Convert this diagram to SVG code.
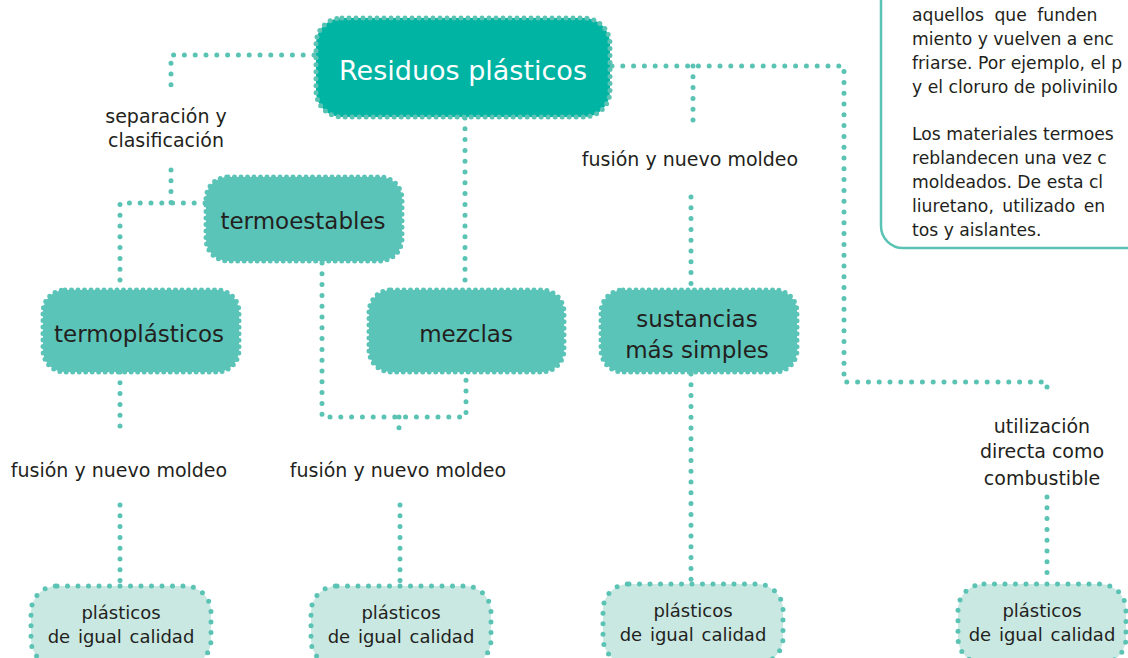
<svg xmlns="http://www.w3.org/2000/svg" width="1128" height="658" viewBox="0 0 1128 658">
<style>
.con{fill:none;stroke:#5ac3b4;stroke-width:5;stroke-linecap:round;stroke-dasharray:0 10.8}
.main{fill:#00b4a4;stroke:#5ac3b4;stroke-width:5;stroke-linecap:round;stroke-dasharray:0 7}
.mid{fill:#5bc4b8;stroke:#5bc4b8;stroke-width:5;stroke-linecap:round;stroke-dasharray:0 6.5}
.bot{fill:#c9e8e2;stroke:#5ac3b4;stroke-width:5;stroke-linecap:round;stroke-dasharray:0 10.5}
text{font-family:"DejaVu Sans","Liberation Sans",sans-serif;fill:#231f20}
.t1{font-size:27px;fill:#ffffff;text-anchor:middle}
.t2{font-size:23px;text-anchor:middle}
.t3{font-size:18px;text-anchor:middle;word-spacing:2px}
.lab{font-size:19px;text-anchor:middle}
.info{font-size:17.2px}
</style>
<g id="info">
<rect x="881" y="-40" width="300" height="288" rx="22" fill="#ffffff" stroke="#5ac3b4" stroke-width="2.5"/>
<text class="info" x="912" y="21" word-spacing="5">aquellos que funden</text>
<text class="info" x="912" y="45">miento y vuelven a enc</text>
<text class="info" x="912" y="69">friarse. Por ejemplo, el p</text>
<text class="info" x="912" y="93">y el cloruro de polivinilo</text>
<text class="info" x="912" y="140">Los materiales termoes</text>
<text class="info" x="912" y="164">reblandecen una vez c</text>
<text class="info" x="912" y="188">moldeados. De esta cl</text>
<text class="info" x="912" y="212" word-spacing="3">liuretano, utilizado en</text>
<text class="info" x="912" y="236">tos y aislantes.</text>
</g>
<g id="connectors">
<path class="con" d="M314,55 H171 V88"/>
<path class="con" d="M171,170 V203"/>
<path class="con" d="M205,203 H120 V288"/>
<path class="con" d="M465,118 V290"/>
<path class="con" d="M322,263 V417 H466 V372"/>
<path class="con" d="M399,417 V430"/>
<path class="con" d="M400,505 V585"/>
<path class="con" d="M120,372 V432"/>
<path class="con" d="M120,505 V585"/>
<path class="con" d="M612,66 H844 V382 H1047 V394"/>
<path class="con" d="M693,66 V122"/>
<path class="con" d="M691,197 V288"/>
<path class="con" d="M691,374 V583"/>
<path class="con" d="M1047,497 V583"/>
</g>
<g id="labels">
<text class="lab" x="166" y="123">separación y</text>
<text class="lab" x="166" y="147">clasificación</text>
<text class="lab" x="119" y="477">fusión y nuevo moldeo</text>
<text class="lab" x="398" y="477">fusión y nuevo moldeo</text>
<text class="lab" x="690" y="166">fusión y nuevo moldeo</text>
<text class="lab" x="1042" y="433">utilización</text>
<text class="lab" x="1042" y="458">directa como</text>
<text class="lab" x="1042" y="485">combustible</text>
</g>
<g id="residuos">
<rect class="main" x="316" y="18" width="294" height="99" rx="26"/>
<text class="t1" x="463" y="80">Residuos plásticos</text>
</g>
<g id="termoestables">
<rect class="mid" x="206" y="177" width="196" height="84" rx="22"/>
<text class="t2" x="303" y="229">termoestables</text>
</g>
<g id="termoplasticos">
<rect class="mid" x="43" y="290" width="196" height="82" rx="22"/>
<text class="t2" x="139" y="342">termoplásticos</text>
</g>
<g id="mezclas">
<rect class="mid" x="369" y="290" width="195" height="82" rx="22"/>
<text class="t2" x="466" y="342">mezclas</text>
</g>
<g id="sustancias">
<rect class="mid" x="601" y="290" width="196" height="82" rx="22"/>
<text class="t2" x="697" y="327">sustancias</text>
<text class="t2" x="697" y="358">más simples</text>
</g>
<g id="plasticos1">
<rect class="bot" x="31" y="586" width="180" height="80" rx="26"/>
<text class="t3" x="121" y="619">plásticos</text>
<text class="t3" x="121" y="643">de igual calidad</text>
</g>
<g id="plasticos2">
<rect class="bot" x="311" y="586" width="180" height="80" rx="26"/>
<text class="t3" x="401" y="619">plásticos</text>
<text class="t3" x="401" y="643">de igual calidad</text>
</g>
<g id="plasticos3">
<rect class="bot" x="603" y="584" width="180" height="80" rx="26"/>
<text class="t3" x="693" y="617">plásticos</text>
<text class="t3" x="693" y="641">de igual calidad</text>
</g>
<g id="plasticos4">
<rect class="bot" x="958" y="584" width="168" height="80" rx="26"/>
<text class="t3" x="1042" y="617">plásticos</text>
<text class="t3" x="1042" y="641">de igual calidad</text>
</g>
</svg>
